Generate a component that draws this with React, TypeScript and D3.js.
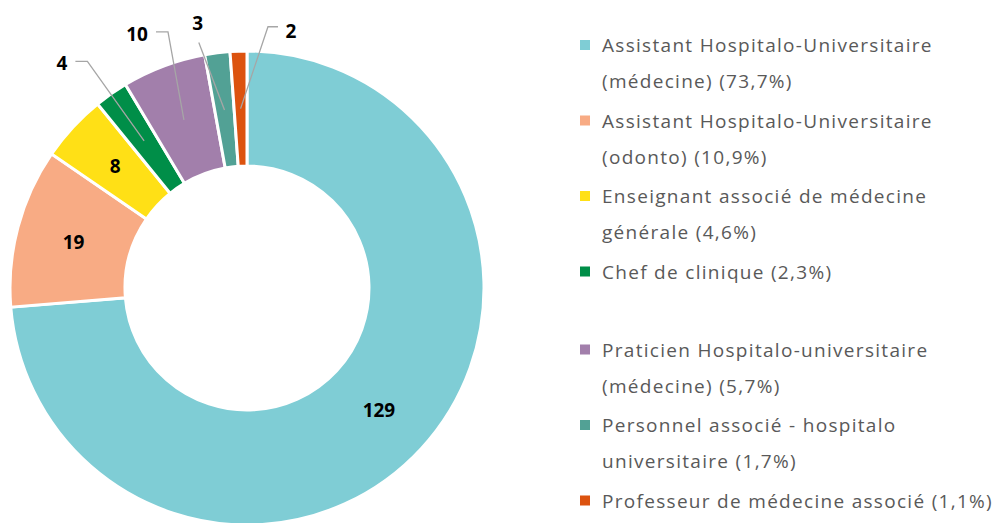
import React from 'react';
import * as d3 from 'd3';

// Chart data
const categories = [
  'Assistant Hospitalo-Universitaire (médecine)',
  'Assistant Hospitalo-Universitaire (odonto)',
  'Enseignant associé de médecine générale',
  'Chef de clinique',
  'Praticien Hospitalo-universitaire (médecine)',
  'Personnel associé - hospitalo universitaire',
  'Professeur de médecine associé',
];
const counts = [129, 19, 8, 4, 10, 3, 2];
const percentLabels = ['73,7%', '10,9%', '4,6%', '2,3%', '5,7%', '1,7%', '1,1%'];
// legend text split on lines as in the picture
const legendLines = [
  ['Assistant Hospitalo-Universitaire', '(médecine) (73,7%)'],
  ['Assistant Hospitalo-Universitaire', '(odonto) (10,9%)'],
  ['Enseignant associé de médecine', 'générale (4,6%)'],
  ['Chef de clinique (2,3%)'],
  ['Praticien Hospitalo-universitaire', '(médecine) (5,7%)'],
  ['Personnel associé - hospitalo', 'universitaire (1,7%)'],
  ['Professeur de médecine associé (1,1%)'],
];
const colors = ['#7fcdd5', '#f8ab84', '#ffe016', '#008e48', '#a27fab', '#52a195', '#dc530f'];

// Layout
const width = 1001;
const height = 523;
const cx = 247;
const cy = 288;
const outerR = 237;
const innerR = 122;

// external labels: [angle deg (clockwise from top), radius] or null when inside
const labelPlacement: ([number, number] | null)[] = [
  null, null, null,
  [-39.5, 291],
  [-23.4, 277],
  [-10.5, 270],
  [9.7, 261],
];

export default function App() {
  const pie = d3.pie<number>().sort(null).value(d => d);
  const arcs = pie(counts);
  const arc = d3.arc<d3.PieArcDatum<number>>().innerRadius(innerR).outerRadius(outerR);

  const polar = (deg: number, r: number) => {
    const a = (deg * Math.PI) / 180;
    return [r * Math.sin(a), -r * Math.cos(a)];
  };

  // legend rows
  const lineH = 36;
  let y = 45;
  const legendRows = legendLines.map((lines, i) => {
    const row = { y, lines, i };
    y += lines.length * lineH + 3.5;
    if (i === 3) y += 38.5;
    return row;
  });

  return (
    <svg width={width} height={height} style={{ position: 'absolute', left: 0, top: 0 }}>
      <g transform={`translate(${cx},${cy})`}>
        {arcs.map((a, i) => (
          <path key={i} d={arc(a) || ''} fill={colors[i]} stroke="#fff" strokeWidth={3} />
        ))}
        {arcs.map((a, i) => {
          const [x0, y0] = arc.centroid(a);
          const place = labelPlacement[i];
          if (!place) {
            return (
              <text key={'l' + i} x={x0} y={y0} textAnchor="middle" dominantBaseline="central"
                fontFamily="'Open Sans', sans-serif" fontWeight="bold" fontSize={19} fill="#000">
                {counts[i]}
              </text>
            );
          }
          const [lx, ly] = polar(place[0], place[1]);
          let pts: [number, number][];
          if (lx < x0 - 40) {
            // label left, elbow to the right of the text
            const ex = lx + (String(counts[i]).length * 11) / 2 + 8;
            pts = [[x0, y0], [ex + 12, ly - 2], [ex, ly - 2]];
          } else if (lx > x0 + 30) {
            const ex = lx - 13;
            pts = [[x0, y0], [ex - 10, ly - 4], [ex, ly - 4]];
          } else {
            pts = [[x0, y0], [lx + 1, ly + 20]];
          }
          return (
            <g key={'l' + i}>
              <path d={d3.line()(pts) || ''} fill="none" stroke="#a6a6a6" strokeWidth={1.3} />
              <text x={lx} y={ly} textAnchor="middle" dominantBaseline="central"
                fontFamily="'Open Sans', sans-serif" fontWeight="bold" fontSize={19} fill="#000">
                {counts[i]}
              </text>
            </g>
          );
        })}
      </g>
      <g>
        {legendRows.map(r => (
          <g key={r.i} transform={`translate(580,${r.y})`}>
            <rect x={0} y={-5} width={10} height={10} fill={colors[r.i]} />
            {r.lines.map((t, j) => (
              <text key={j} x={22} y={j * lineH} dominantBaseline="central"
                fontFamily="'Open Sans', sans-serif" fontSize={19} letterSpacing={1.3}
                fill="#595959">
                {t}
              </text>
            ))}
          </g>
        ))}
      </g>
    </svg>
  );
}
